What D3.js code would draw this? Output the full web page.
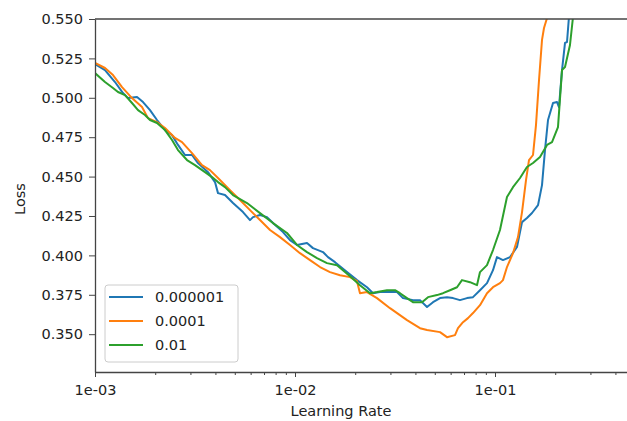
<!DOCTYPE html>
<html>
<head>
<meta charset="utf-8">
<script src="https://cdn.jsdelivr.net/npm/d3@7"></script>
<style>
  body { margin: 0; background: #fff; }
  text { font-family: "DejaVu Sans", sans-serif; fill: #222; }
</style>
</head>
<body>
<div class="chart"></div>
<script>
// series (learning rate, loss)
const seriesNames = ['0.000001', '0.0001', '0.01'];
const colors = ['#1f77b4', '#ff7f0e', '#2ca02c'];

const lrA = [0.001, 0.001122, 0.001259, 0.00138, 0.001462, 0.001622, 0.001738, 0.001884, 0.002042, 0.002239, 0.002427, 0.0026, 0.002818, 0.003055, 0.003273, 0.003673, 0.003981, 0.004121, 0.004467, 0.004898, 0.005495, 0.005957, 0.006166, 0.006683, 0.007244, 0.007762, 0.00871, 0.009441, 0.01023, 0.01148, 0.0123, 0.0138, 0.01462, 0.01585, 0.0182, 0.02042, 0.02291, 0.02455, 0.02661, 0.02985, 0.03236, 0.03467, 0.0389, 0.04217, 0.04571, 0.04898, 0.05309, 0.05754, 0.06166, 0.06683, 0.07244, 0.07762, 0.08414, 0.0912, 0.09772, 0.1023, 0.1096, 0.1189, 0.1288, 0.1365, 0.1445, 0.1531, 0.1641, 0.1718, 0.1778, 0.1841, 0.195, 0.2042, 0.2089, 0.2163, 0.2239, 0.2291, 0.2344, 0.2427];
const lossA = [0.5214, 0.5176, 0.51, 0.503, 0.4998, 0.5005, 0.4973, 0.4922, 0.4859, 0.4795, 0.4763, 0.4701, 0.4637, 0.4637, 0.4586, 0.4528, 0.4465, 0.4395, 0.4383, 0.4332, 0.4275, 0.4224, 0.4243, 0.4256, 0.4243, 0.4205, 0.4148, 0.4097, 0.4066, 0.4078, 0.4046, 0.4021, 0.3989, 0.3957, 0.3894, 0.3843, 0.3798, 0.376, 0.3767, 0.3767, 0.3767, 0.3729, 0.3716, 0.3716, 0.3672, 0.3703, 0.3729, 0.3735, 0.3729, 0.3716, 0.3729, 0.3735, 0.3779, 0.3824, 0.3906, 0.3989, 0.397, 0.3989, 0.4053, 0.4211, 0.4237, 0.4269, 0.4319, 0.4446, 0.4668, 0.4859, 0.4967, 0.4973, 0.4941, 0.5176, 0.5348, 0.5354, 0.5515, 0.56];

const lrB = [0.001, 0.001122, 0.00123, 0.001365, 0.001531, 0.001718, 0.001841, 0.002042, 0.002239, 0.002512, 0.002723, 0.003055, 0.003428, 0.003758, 0.004121, 0.004732, 0.005309, 0.005957, 0.006683, 0.007499, 0.008414, 0.009441, 0.01059, 0.01189, 0.01334, 0.01496, 0.01679, 0.01884, 0.02042, 0.02113, 0.02291, 0.0257, 0.02985, 0.03631, 0.04217, 0.04571, 0.05309, 0.05754, 0.0631, 0.06531, 0.06918, 0.07328, 0.07762, 0.08414, 0.0912, 0.09772, 0.1059, 0.1096, 0.1148, 0.123, 0.1303, 0.1365, 0.1429, 0.1479, 0.1549, 0.1603, 0.166, 0.1718, 0.1758, 0.182, 0.1884];
const lossB = [0.5221, 0.5189, 0.5144, 0.5068, 0.4998, 0.4941, 0.4871, 0.4846, 0.4808, 0.4745, 0.4719, 0.4649, 0.4573, 0.4541, 0.4491, 0.4414, 0.4351, 0.4287, 0.4224, 0.4161, 0.4116, 0.4066, 0.4014, 0.397, 0.3926, 0.3894, 0.3874, 0.3862, 0.3836, 0.376, 0.3767, 0.3729, 0.3665, 0.3589, 0.3538, 0.3526, 0.3513, 0.3481, 0.3494, 0.3538, 0.3576, 0.3602, 0.3634, 0.3684, 0.376, 0.3798, 0.3824, 0.3843, 0.3926, 0.4014, 0.4116, 0.4275, 0.4478, 0.4605, 0.4637, 0.4827, 0.5113, 0.5367, 0.5443, 0.5506, 0.559];

const lrC = [0.001, 0.001122, 0.00123, 0.001303, 0.001413, 0.001531, 0.001641, 0.001778, 0.001884, 0.002042, 0.002239, 0.002427, 0.0026, 0.002884, 0.003162, 0.003548, 0.003846, 0.004121, 0.004467, 0.004898, 0.005754, 0.006683, 0.007762, 0.00912, 0.01023, 0.01148, 0.01288, 0.01445, 0.01622, 0.01884, 0.02113, 0.02371, 0.0257, 0.02884, 0.03162, 0.0335, 0.03631, 0.0389, 0.04315, 0.04624, 0.05129, 0.05495, 0.05957, 0.06457, 0.06839, 0.07499, 0.08128, 0.08414, 0.0912, 0.09772, 0.1059, 0.1148, 0.123, 0.1334, 0.1445, 0.1549, 0.1679, 0.182, 0.1928, 0.2065, 0.2163, 0.2239, 0.2371, 0.2455, 0.2541];
const lossC = [0.5157, 0.51, 0.5062, 0.5037, 0.5017, 0.4967, 0.4922, 0.4891, 0.4859, 0.484, 0.4795, 0.4732, 0.4668, 0.4605, 0.4573, 0.4528, 0.4497, 0.4465, 0.4433, 0.4383, 0.4332, 0.4268, 0.4205, 0.4142, 0.4066, 0.4021, 0.3983, 0.3951, 0.3938, 0.3868, 0.3811, 0.376, 0.3767, 0.3779, 0.3779, 0.376, 0.3729, 0.3703, 0.3703, 0.3735, 0.3748, 0.376, 0.3779, 0.3798, 0.3843, 0.383, 0.3811, 0.3894, 0.3938, 0.4034, 0.4161, 0.437, 0.4433, 0.4491, 0.4561, 0.4586, 0.4624, 0.4701, 0.4719, 0.4814, 0.5176, 0.5195, 0.5335, 0.5513, 0.562];

const xTicks = [0.001, 0.01, 0.1];
const xTickLabels = ['1e-03', '1e-02', '1e-01'];
const xMinorTicks = [0.002, 0.003, 0.004, 0.005, 0.006, 0.007, 0.008, 0.009,
  0.02, 0.03, 0.04, 0.05, 0.06, 0.07, 0.08, 0.09, 0.2, 0.3, 0.4];
const yTicks = [0.350, 0.375, 0.400, 0.425, 0.450, 0.475, 0.500, 0.525, 0.550];

const W = 627;
const H = 421;
const plotLeft = 95;
const plotTop = 19;
const plotBottom = 372;

const x = d3.scaleLog().domain([0.001, 0.5]).range([plotLeft, plotLeft + 200 * Math.log10(500)]);
const y = d3.scaleLinear().domain([0.326, 0.550]).range([plotBottom, plotTop]);

const svg = d3.select('.chart').append('svg')
  .attr('width', W)
  .attr('height', H);

svg.append('defs').append('clipPath').attr('id', 'plot')
  .append('rect')
  .attr('x', plotLeft).attr('y', plotTop)
  .attr('width', x.range()[1] - plotLeft).attr('height', plotBottom - plotTop);

const series = [
  d3.zip(lrA, lossA),
  d3.zip(lrB, lossB),
  d3.zip(lrC, lossC)
];

const line = d3.line()
  .x(d => x(d[0]))
  .y(d => y(d[1]));

svg.append('g').attr('clip-path', 'url(#plot)')
  .selectAll('path')
  .data(series)
  .enter().append('path')
  .attr('d', line)
  .attr('fill', 'none')
  .attr('stroke', (d, i) => colors[i])
  .attr('stroke-width', 2)
  .attr('stroke-linejoin', 'round');

// axes
svg.append('g')
  .attr('transform', `translate(${plotLeft},0)`)
  .call(d3.axisLeft(y).tickValues(yTicks).tickFormat(d3.format('.3f'))
    .tickSize(6).tickSizeOuter(0).tickPadding(6));

svg.append('g')
  .attr('transform', `translate(0,${plotBottom})`)
  .call(d3.axisBottom(x).tickValues(xTicks).tickFormat((d, i) => xTickLabels[i])
    .tickSize(5).tickSizeOuter(0).tickPadding(8));

svg.append('g')
  .attr('transform', `translate(0,${plotBottom})`)
  .call(d3.axisBottom(x).tickValues(xMinorTicks).tickFormat('')
    .tickSize(3).tickSizeOuter(0))
  .select('.domain').remove();

svg.append('line')
  .attr('x1', plotLeft).attr('x2', x.range()[1])
  .attr('y1', plotTop).attr('y2', plotTop)
  .attr('stroke', '#444').attr('stroke-width', 1.3);

svg.selectAll('.domain').attr('stroke', '#444').attr('stroke-width', 1.3);
svg.selectAll('.tick line').attr('stroke', '#444');
svg.selectAll('.tick text')
  .style('font-size', '14.5px')
  .style('font-family', '"DejaVu Sans", sans-serif')
  .attr('fill', '#222');

svg.append('text')
  .attr('x', 341)
  .attr('y', 416)
  .attr('text-anchor', 'middle')
  .style('font-size', '14.5px')
  .text('Learning Rate');

svg.append('text')
  .attr('transform', 'translate(25,199) rotate(-90)')
  .attr('text-anchor', 'middle')
  .style('font-size', '14.5px')
  .text('Loss');

// legend
const legend = svg.append('g');
legend.append('rect')
  .attr('x', 105).attr('y', 285)
  .attr('width', 133).attr('height', 77)
  .attr('rx', 3)
  .attr('fill', '#fff').attr('fill-opacity', 0.8)
  .attr('stroke', '#ccc');

const rows = legend.selectAll('.row')
  .data(seriesNames)
  .enter().append('g')
  .attr('class', 'row')
  .attr('transform', (d, i) => `translate(0,${297 + i * 24})`);

rows.append('line')
  .attr('x1', 109).attr('x2', 143)
  .attr('stroke', (d, i) => colors[i])
  .attr('stroke-width', 2);

rows.append('text')
  .attr('x', 155)
  .attr('y', 5)
  .style('font-size', '14.5px')
  .text(d => d);
</script>
</body>
</html>
